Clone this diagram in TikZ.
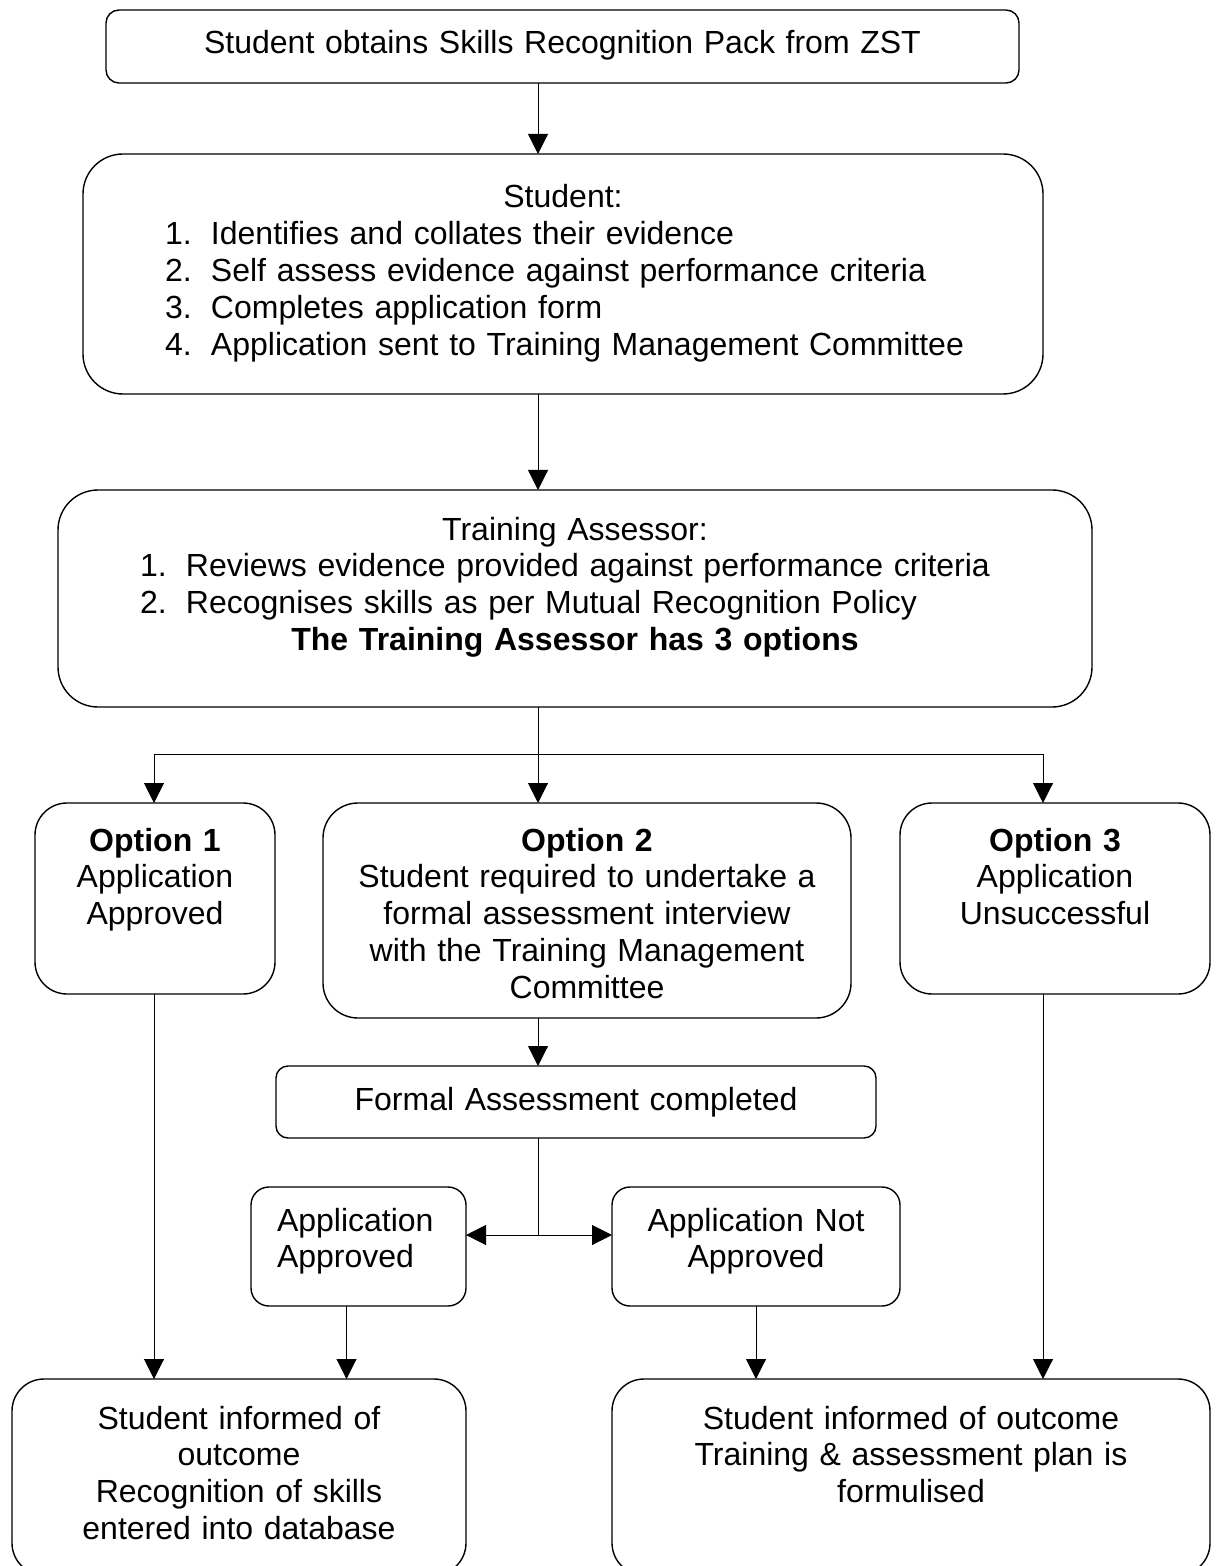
\documentclass[tikz,border=0pt]{standalone}
\usepackage{fontspec}
\setmainfont{Liberation Sans}
\usetikzlibrary{arrows.meta}
\def\numline#1#2{\makebox[\linewidth][l]{\hspace*{41pt}\makebox[23pt][l]{#1}#2}}
\tikzset{
	box/.style={draw, line width=0.7pt, anchor=north west, inner sep=0pt, outer sep=0pt, align=center, font=\fontsize{16pt}{18.4pt}\selectfont},
	arr/.style={-{Triangle[length=10pt,width=10pt]}, line width=0.5pt},
	link/.style={line width=0.5pt},
}

\begin{document}
\begin{tikzpicture}[x=0.5pt, y=-0.5pt]
		%%%%% START %%%%%
		
		\useasboundingbox[fill=white] (0, 0) rectangle (1217, 1566);
		
		\node[box, rounded corners=6.5pt, text width=456.5pt, text height=22pt, text depth=14.5pt] (pack) at (106, 10) {Student obtains Skills Recognition Pack from ZST};
		
		\node[box, rounded corners=20pt, text width=480pt, text height=27pt, text depth=93pt] (self) at (83, 154) {Student:\\
			\numline{1.}{Identifies and collates their evidence}\\
			\numline{2.}{Self assess evidence against performance criteria}\\
			\numline{3.}{Completes application form}\\
			\numline{4.}{Application sent to Training Management Committee}};
		
		\node[box, rounded corners=20pt, text width=517pt, text height=25pt, text depth=83.5pt] (assess) at (58, 490) {Training Assessor:\\
			\numline{1.}{Reviews evidence provided against performance criteria}\\
			\numline{2.}{Recognises skills as per Mutual Recognition Policy}\\
			\textbf{The Training Assessor has 3 options}};
		
		\node[box, rounded corners=16pt, text width=120pt, text height=24pt, text depth=71.5pt] (opt1) at (35, 803) {\textbf{Option 1}\\Application\\Approved};
		\node[box, rounded corners=17.5pt, text width=264pt, text height=24pt, text depth=83.5pt] (opt2) at (323, 803) {\textbf{Option 2}\\Student required to undertake a\\formal assessment interview\\with the Training Management\\Committee};
		\node[box, rounded corners=16pt, text width=155pt, text height=24pt, text depth=71.5pt] (opt3) at (900, 803) {\textbf{Option 3}\\Application\\Unsuccessful};
		
		\node[box, rounded corners=6pt, text width=300pt, text height=22pt, text depth=14pt] (formal) at (276, 1066) {Formal Assessment completed};
		
		\node[box, rounded corners=9pt, inner xsep=13pt, align=left, text width=81.5pt, text height=22pt, text depth=37.5pt] (appyes) at (251, 1187) {Application\\Approved};
		\node[box, rounded corners=9pt, text width=144pt, text height=22pt, text depth=37.5pt] (appno) at (612, 1187) {Application Not\\Approved};
		
		\node[box, rounded corners=16pt, text width=227pt, text height=25pt, text depth=73pt] (outyes) at (12, 1379) {Student informed of\\outcome\\Recognition of skills\\entered into database};
		\node[box, rounded corners=16pt, text width=299pt, text height=25pt, text depth=73pt] (outno) at (612, 1379) {Student informed of outcome\\Training \& assessment plan is\\formulised};
		
		\coordinate (split) at (538, 754);
		\coordinate (brL) at (154, 754);
		\coordinate (brR) at (1043, 754);
		\coordinate (junc) at (538, 1235);
		\coordinate (ayd) at ([xshift=-6pt]appyes.south);
		
		\draw[arr] (pack.south -| split) -- (self.north -| split);
		\draw[arr] (self.south -| split) -- (assess.north -| split);
		\draw[link] (assess.south -| split) -- (split);
		\draw[link] (brL) -- (brR);
		\draw[arr] (brL) -- (opt1.north -| brL);
		\draw[arr] (split) -- (opt2.north -| split);
		\draw[arr] (brR) -- (opt3.north -| brR);
		
		\draw[arr] (opt2.south -| split) -- (formal.north -| split);
		\draw[link] (formal.south -| junc) -- (junc);
		\draw[arr] (junc) -- (appyes.east |- junc);
		\draw[arr] (junc) -- (appno.west |- junc);
		
		\draw[arr] (opt1.south -| brL) -- (outyes.north -| brL);
		\draw[arr] (ayd) -- (ayd |- outyes.north);
		\draw[arr] (appno.south) -- (appno.south |- outno.north);
		\draw[arr] (opt3.south -| brR) -- (outno.north -| brR);
		
		%%%%% END %%%%%
\end{tikzpicture}
\end{document}
